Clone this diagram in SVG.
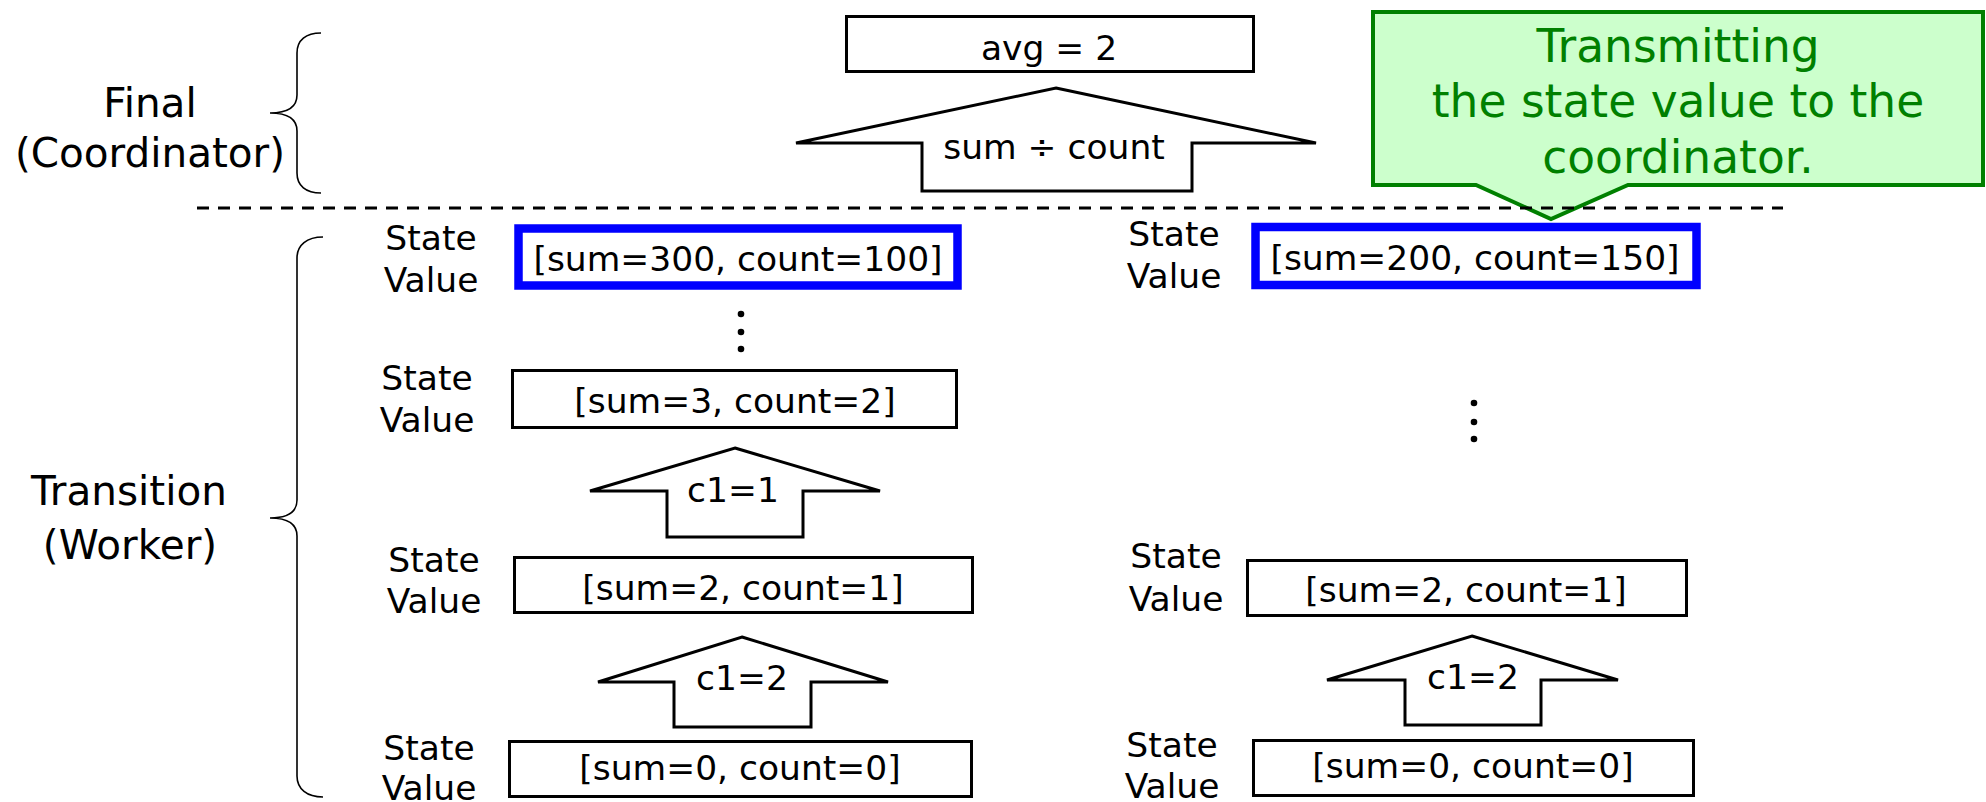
<svg xmlns="http://www.w3.org/2000/svg" width="1986" height="802" viewBox="0 0 1986 802">
  <style>
    text { font-family: "DejaVu Sans", Verdana, "Liberation Sans", sans-serif; fill: #000; text-anchor: middle; }
    .lbl { font-size: 34.5px; }
    .side { font-size: 40.5px; }
    .box { fill: #fff; stroke: #000; stroke-width: 3; }
    .state { fill: #fff; stroke: #0000ff; stroke-width: 8.5; }
    .arrow { fill: #fff; stroke: #000; stroke-width: 3; stroke-linejoin: miter; }
    .brace { fill: none; stroke: #000; stroke-width: 1.6; }
    .dots circle { fill: #000; }
    .note { fill: #ccffcc; stroke: #008000; stroke-width: 4; stroke-linejoin: miter; }
    .note-text { font-size: 45.5px; fill: #008000; }
  </style>

  <!-- phase labels with braces -->
  <g id="phase-final">
    <path class="brace" d="M321,33 C306,33 297,40 297,53 L297,95 C297,107 287,113 270,113 C287,113 297,119 297,131 L297,173 C297,186 306,193 321,193"/>
    <text class="side" x="150" y="117">Final</text>
    <text class="side" x="150" y="167">(Coordinator)</text>
  </g>
  <g id="phase-transition">
    <path class="brace" d="M323,237 C307,237 297,245 297,258 L297,500 C297,512 287,518 270,518 C287,518 297,524 297,536 L297,776 C297,789 307,797 323,797"/>
    <text class="side" x="129" y="505">Transition</text>
    <text class="side" x="130" y="559">(Worker)</text>
  </g>

  <!-- coordinator result -->
  <g id="avg">
    <rect class="box" x="846.5" y="16.5" width="407" height="55"/>
    <text class="lbl" x="1049" y="60">avg = 2</text>
  </g>

  <!-- callout -->
  <g id="callout">
    <path class="note" d="M1373,12 H1983 V185 H1628 L1551,219 L1476,185 H1373 Z"/>
    <text class="note-text" x="1678" y="62">Transmitting</text>
    <text class="note-text" x="1678" y="117">the state value to the</text>
    <text class="note-text" x="1678" y="173">coordinator.</text>
  </g>

  <!-- separator between coordinator and workers -->
  <line x1="197" y1="208" x2="1783" y2="208" stroke="#000" stroke-width="3" stroke-dasharray="12 9"/>

  <!-- worker 1 -->
  <g id="w1-state-final">
    <text class="lbl" x="431" y="250">State</text>
    <text class="lbl" x="431" y="292">Value</text>
    <rect class="state" x="518.5" y="228.5" width="439" height="57"/>
    <text class="lbl" x="738" y="271">[sum=300, count=100]</text>
  </g>
  <g id="w1-dots" class="dots">
    <circle cx="741" cy="314" r="3.3"/>
    <circle cx="741" cy="332" r="3.3"/>
    <circle cx="741" cy="349" r="3.3"/>
  </g>
  <g id="w1-state-2">
    <text class="lbl" x="427" y="390">State</text>
    <text class="lbl" x="427" y="432">Value</text>
    <rect class="box" x="512.5" y="370.5" width="444" height="57"/>
    <text class="lbl" x="735" y="413">[sum=3, count=2]</text>
  </g>
  <g id="w1-state-1">
    <text class="lbl" x="434" y="572">State</text>
    <text class="lbl" x="434" y="613">Value</text>
    <rect class="box" x="514.5" y="557.5" width="458" height="55"/>
    <text class="lbl" x="743" y="600">[sum=2, count=1]</text>
  </g>
  <g id="w1-state-0">
    <text class="lbl" x="429" y="760">State</text>
    <text class="lbl" x="429" y="800">Value</text>
    <rect class="box" x="509.5" y="741.5" width="462" height="55"/>
    <text class="lbl" x="740" y="780">[sum=0, count=0]</text>
  </g>

  <!-- worker 2 -->
  <g id="w2-state-final">
    <text class="lbl" x="1174" y="246">State</text>
    <text class="lbl" x="1174" y="288">Value</text>
    <rect class="state" x="1255.5" y="227" width="441" height="58"/>
    <text class="lbl" x="1475" y="270">[sum=200, count=150]</text>
  </g>
  <g id="w2-dots" class="dots">
    <circle cx="1474" cy="403" r="3.3"/>
    <circle cx="1474" cy="422" r="3.3"/>
    <circle cx="1474" cy="439" r="3.3"/>
  </g>
  <g id="w2-state-1">
    <text class="lbl" x="1176" y="568">State</text>
    <text class="lbl" x="1176" y="611">Value</text>
    <rect class="box" x="1247.5" y="560.5" width="439" height="55"/>
    <text class="lbl" x="1466" y="602">[sum=2, count=1]</text>
  </g>
  <g id="w2-state-0">
    <text class="lbl" x="1172" y="757">State</text>
    <text class="lbl" x="1172" y="798">Value</text>
    <rect class="box" x="1253.5" y="740.5" width="440" height="55"/>
    <text class="lbl" x="1473" y="778">[sum=0, count=0]</text>
  </g>

  <!-- block arrows between states -->
  <g id="connectors">
    <g id="arrow-final">
      <path class="arrow" d="M1056,88 L1316,143 H1192 V191 H922 V143 H796 Z"/>
      <text class="lbl" x="1054" y="159">sum ÷ count</text>
    </g>
    <g id="arrow-w1-c1-1">
      <path class="arrow" d="M735,448 L880,491 H803 V537 H667 V491 H590 Z"/>
      <text class="lbl" x="733" y="502">c1=1</text>
    </g>
    <g id="arrow-w1-c1-2">
      <path class="arrow" d="M742,637 L888,682 H811 V727 H674 V682 H598 Z"/>
      <text class="lbl" x="742" y="690">c1=2</text>
    </g>
    <g id="arrow-w2-c1-2">
      <path class="arrow" d="M1472,636 L1618,680 H1541 V725 H1405 V680 H1327 Z"/>
      <text class="lbl" x="1473" y="689">c1=2</text>
    </g>
  </g>
</svg>
